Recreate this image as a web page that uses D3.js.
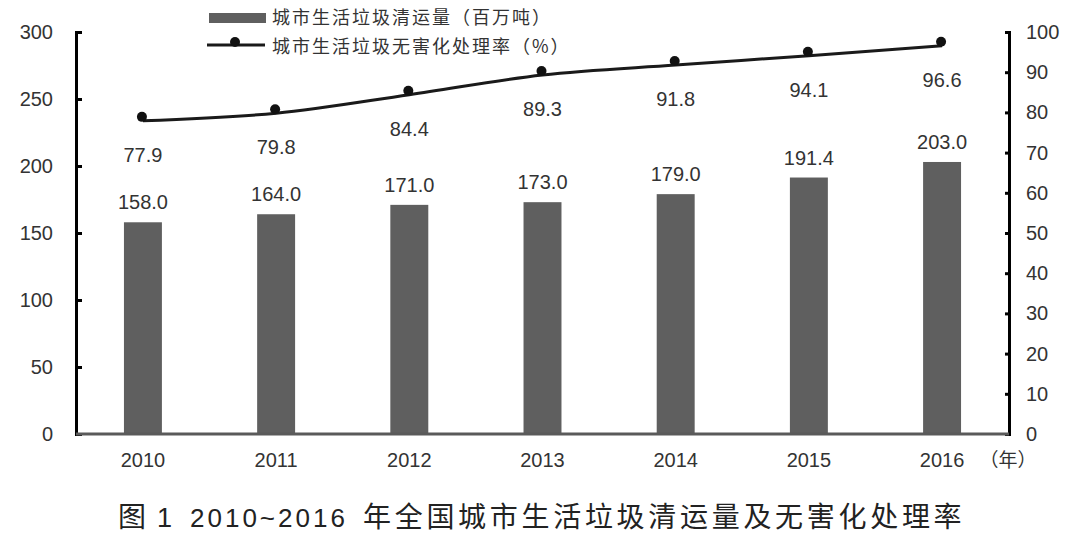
<!DOCTYPE html>
<html>
<head>
<meta charset="utf-8">
<script src="https://d3js.org/d3.v7.min.js"></script>
<style>
  body { margin: 0; background: #fff; }
  text { font-family: "Liberation Sans", "Noto Sans CJK SC", sans-serif; fill: #333; }
  .cjk { font-family: "Noto Sans CJK SC", sans-serif; }
</style>
</head>
<body>
<div id="chart"></div>
<script>
// data
const years = ['2010', '2011', '2012', '2013', '2014', '2015', '2016']
const volume = [158.0, 164.0, 171.0, 173.0, 179.0, 191.4, 203.0]   // 百万吨
const rate = [77.9, 79.8, 84.4, 89.3, 91.8, 94.1, 96.6]            // %
const leftTicks = [0, 50, 100, 150, 200, 250, 300]
const rightTicks = [0, 10, 20, 30, 40, 50, 60, 70, 80, 90, 100]
const barName = '城市生活垃圾清运量（百万吨）'
const lineName = '城市生活垃圾无害化处理率（%）'
const titleParts = ['图', '1', '2010~2016', '年全国城市生活垃圾清运量及无害化处理率']

const W = 1080, H = 549
const plot = { left: 76, right: 1009, top: 32, bottom: 434 }

const svg = d3.select('#chart').append('svg')
    .attr('width', W)
    .attr('height', H)

const xScale = d3.scaleBand()
    .domain(years)
    .range([plot.left, plot.right])
    .paddingInner(0.715)
    .paddingOuter(0.36)

const xMid = d => xScale(d) + xScale.bandwidth() / 2

const yLeft = d3.scaleLinear().domain([0, 300]).range([plot.bottom, plot.top])
const yRight = d3.scaleLinear().domain([0, 100]).range([plot.bottom, plot.top])

// bars
svg.append('g').selectAll('rect')
    .data(volume)
    .enter()
    .append('rect')
    .attr('x', (d, i) => xScale(years[i]))
    .attr('y', d => yLeft(d))
    .attr('width', xScale.bandwidth())
    .attr('height', d => yLeft(0) - yLeft(d))
    .attr('fill', '#5f5f5f')

// bar labels
svg.append('g').selectAll('text')
    .data(volume)
    .enter()
    .append('text')
    .attr('x', (d, i) => xMid(years[i]))
    .attr('y', d => yLeft(d) - 13)
    .attr('text-anchor', 'middle')
    .style('font-size', '20px')
    .text(d => d.toFixed(1))

// left axis
const leftAxis = d3.axisRight(yLeft).tickValues(leftTicks).tickSize(6).tickFormat('')
const gl = svg.append('g').attr('transform', `translate(${plot.left},0)`).call(leftAxis)
gl.select('.domain').attr('stroke', '#000').attr('stroke-width', 3)
gl.selectAll('.tick line').attr('stroke', '#000').attr('stroke-width', 3)
svg.append('g').selectAll('text')
    .data(leftTicks)
    .enter()
    .append('text')
    .attr('x', 53)
    .attr('y', d => yLeft(d))
    .attr('dy', '0.35em')
    .attr('text-anchor', 'end')
    .style('font-size', '20px')
    .text(d => d)

// right axis
const rightAxis = d3.axisLeft(yRight).tickValues(rightTicks).tickSize(4).tickFormat('')
const gr = svg.append('g').attr('transform', `translate(${plot.right},0)`).call(rightAxis)
gr.select('.domain').attr('stroke', '#000').attr('stroke-width', 3)
gr.selectAll('.tick line').attr('stroke', '#000').attr('stroke-width', 3)
svg.append('g').selectAll('text')
    .data(rightTicks)
    .enter()
    .append('text')
    .attr('x', 1026)
    .attr('y', d => yRight(d))
    .attr('dy', '0.35em')
    .style('font-size', '20px')
    .text(d => d)

// x axis
svg.append('line')
    .attr('x1', plot.left).attr('x2', plot.right)
    .attr('y1', yLeft(0)).attr('y2', yLeft(0))
    .attr('stroke', '#5a5a5a')
    .attr('stroke-width', 3)

svg.append('g').selectAll('text')
    .data(years)
    .enter()
    .append('text')
    .attr('x', d => xMid(d))
    .attr('y', 460)
    .attr('dy', '0.35em')
    .attr('text-anchor', 'middle')
    .style('font-size', '20px')
    .text(d => d)

svg.append('text')
    .attr('class', 'cjk')
    .attr('x', 1008)
    .attr('y', 460)
    .attr('dy', '0.35em')
    .attr('text-anchor', 'middle')
    .style('font-size', '19px')
    .text('（年）')

// rate line
const line = d3.line()
    .x((d, i) => xMid(years[i]))
    .y(d => yRight(d))
    .curve(d3.curveMonotoneX)

svg.append('path')
    .datum(rate)
    .attr('fill', 'none')
    .attr('stroke', '#1a1a1a')
    .attr('stroke-width', 3)
    .attr('d', line)

svg.append('g')
    .attr('transform', 'translate(-1,-4)')
    .selectAll('circle')
    .data(rate)
    .enter()
    .append('circle')
    .attr('cx', (d, i) => xMid(years[i]))
    .attr('cy', d => yRight(d))
    .attr('r', 5)
    .attr('fill', '#111')

svg.append('g').selectAll('text')
    .data(rate)
    .enter()
    .append('text')
    .attr('x', (d, i) => xMid(years[i]))
    .attr('y', d => yRight(d) + 34)
    .attr('dy', '0.35em')
    .attr('text-anchor', 'middle')
    .style('font-size', '20px')
    .text(d => d.toFixed(1))

// legend
const legend = svg.append('g')
legend.append('rect')
    .attr('x', 209).attr('y', 13)
    .attr('width', 57).attr('height', 10)
    .attr('fill', '#5f5f5f')
legend.append('text')
    .attr('class', 'cjk')
    .attr('x', 272).attr('y', 18)
    .attr('dy', '0.35em')
    .style('font-size', '18px')
    .style('letter-spacing', '2px')
    .text(barName)
legend.append('line')
    .attr('x1', 207).attr('x2', 265)
    .attr('y1', 45).attr('y2', 45)
    .attr('stroke', '#1a1a1a')
    .attr('stroke-width', 3)
legend.append('circle')
    .attr('cx', 235).attr('cy', 42)
    .attr('r', 5)
    .attr('fill', '#111')
legend.append('text')
    .attr('class', 'cjk')
    .attr('x', 272).attr('y', 47)
    .attr('dy', '0.35em')
    .style('font-size', '18px')
    .style('letter-spacing', '2px')
    .text(lineName)

// title
const title = svg.append('text')
    .attr('y', 521)
    .attr('dy', '0.35em')
    .style('fill', '#222')
title.append('tspan').attr('x', 118).attr('class', 'cjk')
    .style('font-size', '28px').text(titleParts[0])
title.append('tspan').attr('x', 157)
    .style('font-size', '27px').text(titleParts[1])
title.append('tspan').attr('x', 190)
    .style('font-size', '26px').style('letter-spacing', '3px').text(titleParts[2])
title.append('tspan').attr('x', 363).attr('class', 'cjk')
    .style('font-size', '28px').style('letter-spacing', '3.7px').text(titleParts[3])
</script>
</body>
</html>
